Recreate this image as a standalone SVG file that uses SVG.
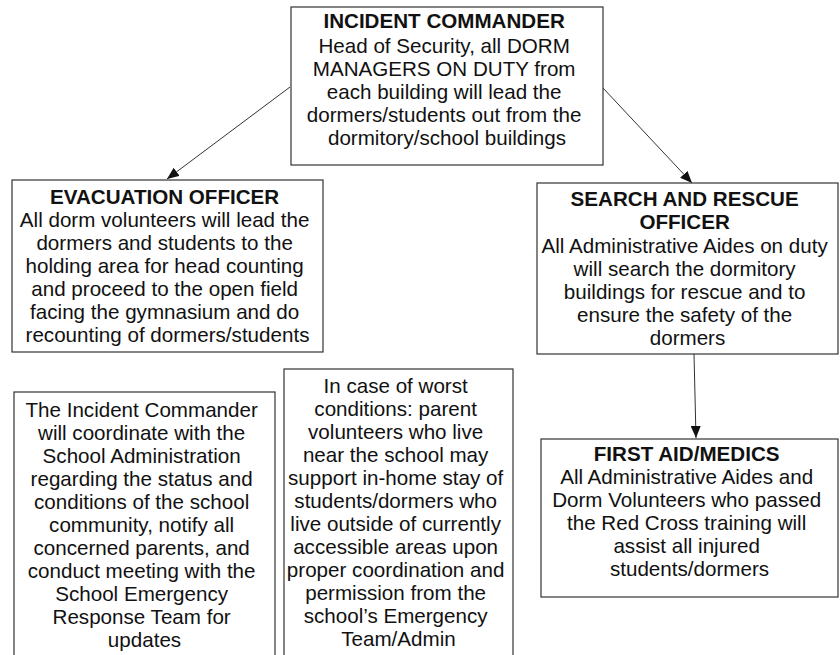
<svg xmlns="http://www.w3.org/2000/svg" width="840" height="655" viewBox="0 0 840 655">
  <style>
    .box { fill: #ffffff; stroke: #333333; stroke-width: 1.2; }
    .t { font-family: "Liberation Sans", Arial, sans-serif; font-size: 20.6px; fill: #111111; text-anchor: middle; }
    .b { font-weight: bold; }
    .edge { stroke: #333333; stroke-width: 1; fill: none; marker-end: url(#arrow); }
  </style>
  <defs>
    <marker id="arrow" viewBox="0 0 12 10" refX="12" refY="5" markerWidth="12" markerHeight="10" markerUnits="userSpaceOnUse" orient="auto">
      <path d="M0,0 L12,5 L0,10 z" fill="#111111"/>
    </marker>
  </defs>
  <rect width="840" height="655" fill="#ffffff"/>

  <g id="connectors">
    <line class="edge" x1="290" y1="87" x2="167" y2="179"/>
    <line class="edge" x1="603" y1="88" x2="692" y2="183"/>
    <line class="edge" x1="694" y1="354" x2="696" y2="438"/>
  </g>

  <g id="incident-commander">
    <rect class="box" x="291" y="7" width="312" height="158"/>
    <text class="t" x="447" y="28"><tspan class="b">INCIDENT COMMANDER</tspan>
      <tspan x="447" y="53">Head of Security, all DORM</tspan>
      <tspan x="447" y="76">MANAGERS ON DUTY from</tspan>
      <tspan x="447" y="99">each building will lead the</tspan>
      <tspan x="447" y="122">dormers/students out from the</tspan>
      <tspan x="447" y="145">dormitory/school buildings</tspan></text>
  </g>

  <g id="evacuation-officer">
    <rect class="box" x="12" y="180" width="311" height="172"/>
    <text class="t" x="167.5" y="204"><tspan class="b">EVACUATION OFFICER</tspan>
      <tspan x="167.5" y="227">All dorm volunteers will lead the</tspan>
      <tspan x="167.5" y="250">dormers and students to the</tspan>
      <tspan x="167.5" y="273">holding area for head counting</tspan>
      <tspan x="167.5" y="296">and proceed to the open field</tspan>
      <tspan x="167.5" y="319">facing the gymnasium and do</tspan>
      <tspan x="167.5" y="342">recounting of dormers/students</tspan></text>
  </g>

  <g id="search-rescue-officer">
    <rect class="box" x="537" y="183" width="301" height="171"/>
    <text class="t" x="687.5" y="206"><tspan class="b">SEARCH AND RESCUE</tspan>
      <tspan class="b" x="687.5" y="229">OFFICER</tspan>
      <tspan x="687.5" y="253">All Administrative Aides on duty</tspan>
      <tspan x="687.5" y="276">will search the dormitory</tspan>
      <tspan x="687.5" y="299">buildings for rescue and to</tspan>
      <tspan x="687.5" y="322">ensure the safety of the</tspan>
      <tspan x="687.5" y="345">dormers</tspan></text>
  </g>

  <g id="first-aid-medics">
    <rect class="box" x="541" y="439" width="297" height="158"/>
    <text class="t" x="689.5" y="461"><tspan class="b">FIRST AID/MEDICS</tspan>
      <tspan x="689.5" y="484">All Administrative Aides and</tspan>
      <tspan x="689.5" y="507">Dorm Volunteers who passed</tspan>
      <tspan x="689.5" y="530">the Red Cross training will</tspan>
      <tspan x="689.5" y="553">assist all injured</tspan>
      <tspan x="689.5" y="576">students/dormers</tspan></text>
  </g>

  <g id="school-coordination">
    <rect class="box" x="14" y="392" width="261" height="280"/>
    <text class="t" x="144.5" y="417">The Incident Commander
      <tspan x="144.5" y="440">will coordinate with the</tspan>
      <tspan x="144.5" y="463">School Administration</tspan>
      <tspan x="144.5" y="486">regarding the status and</tspan>
      <tspan x="144.5" y="509">conditions of the school</tspan>
      <tspan x="144.5" y="532">community, notify all</tspan>
      <tspan x="144.5" y="555">concerned parents, and</tspan>
      <tspan x="144.5" y="578">conduct meeting with the</tspan>
      <tspan x="144.5" y="601">School Emergency</tspan>
      <tspan x="144.5" y="624">Response Team for</tspan>
      <tspan x="144.5" y="647">updates</tspan></text>
  </g>

  <g id="in-home-stay">
    <rect class="box" x="284" y="369" width="229" height="300"/>
    <text class="t" x="398.5" y="393">In case of worst
      <tspan x="398.5" y="416">conditions: parent</tspan>
      <tspan x="398.5" y="439">volunteers who live</tspan>
      <tspan x="398.5" y="462">near the school may</tspan>
      <tspan x="398.5" y="485">support in-home stay of</tspan>
      <tspan x="398.5" y="508">students/dormers who</tspan>
      <tspan x="398.5" y="531">live outside of currently</tspan>
      <tspan x="398.5" y="554">accessible areas upon</tspan>
      <tspan x="398.5" y="577">proper coordination and</tspan>
      <tspan x="398.5" y="600">permission from the</tspan>
      <tspan x="398.5" y="623">school’s Emergency</tspan>
      <tspan x="398.5" y="646">Team/Admin</tspan></text>
  </g>
</svg>
